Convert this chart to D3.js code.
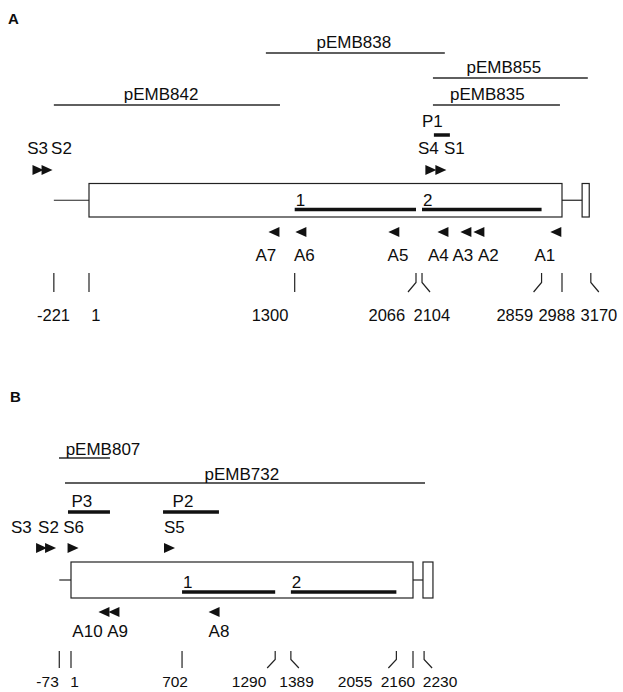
<!DOCTYPE html>
<html>
<head>
<meta charset="utf-8">
<script src="https://cdn.jsdelivr.net/npm/d3@7"></script>
<style>
body { margin: 0; background: white; }
text { font-family: "Liberation Sans", Arial, sans-serif; fill: #0d0d0d; }
</style>
</head>
<body>
<script>
// ---- panel A data (positions in bp) ----
const clonesA = ["pEMB838", "pEMB855", "pEMB835", "pEMB842"];
const cloneStartA = [1118, 2173, 2173, -221];
const cloneEndA = [2248, 3151, 2975, 1207];
const cloneRowA = [0, 1, 2, 2];
const cloneLabelAtA = [1674, 2621, 2517, 456];

const probesA = ["P1"];
const probeStartA = [2179];
const probeEndA = [2280];
const probeLabelAtA = [2169];

const fwdPrimersA = ["S3", "S2", "S4", "S1"];
const fwdAtA = [-321, -264, 2160, 2223];
const fwdLabelAtA = [-324, -173, 2144, 2308];

const revPrimersA = ["A7", "A6", "A5", "A4", "A3", "A2", "A1"];
const revAtA = [1169, 1339, 1926, 2236, 2381, 2463, 2949];
const revLabelAtA = [1118, 1361, 1952, 2207, 2362, 2523, 2880];

const exonsA = ["1", "2"];
const exonStartA = [1300, 2104];
const exonEndA = [2066, 2859];

const geneA = {flank: -221, start: 1, end: 2988, tailStart: 3115, tailEnd: 3160};

const ticksA = [-221, 1, 1300, 2066, 2104, 2859, 2988, 3170];
const tickLabelsA = ["-221", "1", "1300", "2066", "2104", "2859", "2988", "3170"];
const tickBendA = [0, 0, 0, -1, 1, -1, 0, 1];
const tickLabelAtA = [-223, 45, 1144, 1882, 2166, 2690, 2955, 3221];

// ---- panel B data (positions in bp) ----
const clonesB = ["pEMB807", "pEMB732"];
const cloneStartB = [-75, -37];
const cloneEndB = [247, 2236];
const cloneRowB = [0, 1];
const cloneLabelAtB = [203, 1080];

const probesB = ["P3", "P2"];
const probeStartB = [-18, 582];
const probeEndB = [247, 935];
const probeLabelAtB = [70, 708];

const fwdPrimersB = ["S3", "S2", "S6", "S5"];
const fwdAtB = [-185, -128, 14, 623];
const fwdLabelAtB = [-312, -141, 17, 654];

const revPrimersB = ["A10", "A9", "A8"];
const revAtB = [209, 272, 904];
const revLabelAtB = [105, 295, 935];

const exonsB = ["1", "2"];
const exonStartB = [702, 1389];
const exonEndB = [1290, 2055];

const geneB = {flank: -73, start: 1, end: 2160, tailStart: 2223, tailEnd: 2286};

const ticksB = [-73, 1, 702, 1290, 1389, 2055, 2160, 2230];
const tickLabelsB = ["-73", "1", "702", "1290", "1389", "2055", "2160", "2230"];
const tickBendB = [0, 0, 0, -1, 1, -1, 0, 1];
const tickLabelAtB = [-147, 23, 658, 1125, 1425, 1794, 2065, 2331];

const width = 623, height = 692;
const fontSize = 17;

const svg = d3.select("body").append("svg")
    .attr("width", width)
    .attr("height", height);

function triangle(cx, cy, dir) {
    const w = 5.5, h = 5;
    return "M" + (cx - dir*w) + "," + (cy - h) + "L" + (cx + dir*w) + "," + cy + "L" + (cx - dir*w) + "," + (cy + h) + "Z";
}

function drawPanel(p) {
    const g = svg.append("g");
    const x = p.x;

    g.append("text").attr("x", p.titleX).attr("y", p.titleY)
        .style("font-size", "15px").style("font-weight", "bold")
        .text(p.title);

    // clones
    p.clones.forEach((name, i) => {
        const y = p.rowY[p.cloneRow[i]];
        g.append("line")
            .attr("x1", x(p.cloneStart[i])).attr("x2", x(p.cloneEnd[i]))
            .attr("y1", y).attr("y2", y)
            .attr("stroke", "#2a2a2a").attr("stroke-width", 1.3);
        g.append("text")
            .attr("x", x(p.cloneLabelAt[i])).attr("y", y - p.cloneGap)
            .attr("text-anchor", "middle").style("font-size", fontSize + "px")
            .text(name);
    });

    // probes
    p.probes.forEach((name, i) => {
        g.append("line")
            .attr("x1", x(p.probeStart[i])).attr("x2", x(p.probeEnd[i]))
            .attr("y1", p.probeY).attr("y2", p.probeY)
            .attr("stroke", "#111").attr("stroke-width", 3.5);
        g.append("text")
            .attr("x", x(p.probeLabelAt[i])).attr("y", p.probeLabelY)
            .attr("text-anchor", "middle").style("font-size", fontSize + "px")
            .text(name);
    });

    // forward primers
    p.fwd.forEach((name, i) => {
        g.append("path").attr("d", triangle(x(p.fwdAt[i]), p.fwdY, 1)).attr("fill", "#111");
        g.append("text")
            .attr("x", x(p.fwdLabelAt[i])).attr("y", p.fwdLabelY)
            .attr("text-anchor", "middle").style("font-size", fontSize + "px")
            .text(name);
    });

    // gene
    const gn = p.gene;
    const boxMid = (p.boxTop + p.boxBottom) / 2;
    g.append("line").attr("x1", x(gn.flank)).attr("x2", x(gn.start))
        .attr("y1", boxMid).attr("y2", boxMid).attr("stroke", "#222").attr("stroke-width", 1.2);
    g.append("line").attr("x1", x(gn.end)).attr("x2", x(gn.tailStart))
        .attr("y1", boxMid).attr("y2", boxMid).attr("stroke", "#222").attr("stroke-width", 1.2);
    g.append("rect")
        .attr("x", x(gn.start)).attr("y", p.boxTop)
        .attr("width", x(gn.end) - x(gn.start)).attr("height", p.boxBottom - p.boxTop)
        .attr("fill", "none").attr("stroke", "#222").attr("stroke-width", 1.2);
    g.append("rect")
        .attr("x", x(gn.tailStart)).attr("y", p.boxTop)
        .attr("width", x(gn.tailEnd) - x(gn.tailStart)).attr("height", p.boxBottom - p.boxTop)
        .attr("fill", "none").attr("stroke", "#222").attr("stroke-width", 1.2);

    // exon bars
    p.exons.forEach((name, i) => {
        g.append("line")
            .attr("x1", x(p.exonStart[i])).attr("x2", x(p.exonEnd[i]))
            .attr("y1", p.exonY).attr("y2", p.exonY)
            .attr("stroke", "#111").attr("stroke-width", 3.5);
        g.append("text")
            .attr("x", x(p.exonStart[i]) + 1).attr("y", p.exonY - 4)
            .style("font-size", fontSize + "px")
            .text(name);
    });

    // reverse primers
    p.rev.forEach((name, i) => {
        g.append("path").attr("d", triangle(x(p.revAt[i]), p.revY, -1)).attr("fill", "#111");
        g.append("text")
            .attr("x", x(p.revLabelAt[i])).attr("y", p.revLabelY)
            .attr("text-anchor", "middle").style("font-size", fontSize + "px")
            .text(name);
    });

    // position ticks
    p.ticks.forEach((t, i) => {
        const tx = x(t);
        const bx = tx + p.tickBend[i] * 8;
        const mid = p.tickTop + (p.tickBottom - p.tickTop) * 0.5;
        g.append("path")
            .attr("d", p.tickBend[i] === 0
                ? "M" + tx + "," + p.tickTop + "V" + p.tickBottom
                : "M" + tx + "," + p.tickTop + "V" + mid + "L" + bx + "," + p.tickBottom)
            .attr("fill", "none").attr("stroke", "#222").attr("stroke-width", 1.2);
        g.append("text")
            .attr("x", x(p.tickLabelAt[i])).attr("y", p.tickLabelY)
            .attr("text-anchor", "middle").style("font-size", p.tickFont + "px")
            .text(p.tickLabels[i]);
    });
}

drawPanel({
    title: "A", titleX: 8, titleY: 24,
    x: d3.scaleLinear().domain([1, 2988]).range([89, 562]),
    clones: clonesA, cloneStart: cloneStartA, cloneEnd: cloneEndA, cloneRow: cloneRowA,
    cloneLabelAt: cloneLabelAtA, rowY: [53, 78, 105], cloneGap: 5,
    probes: probesA, probeStart: probeStartA, probeEnd: probeEndA, probeLabelAt: probeLabelAtA,
    probeY: 135, probeLabelY: 127,
    fwd: fwdPrimersA, fwdAt: fwdAtA, fwdLabelAt: fwdLabelAtA, fwdY: 170, fwdLabelY: 154,
    gene: geneA, boxTop: 183.5, boxBottom: 217,
    exons: exonsA, exonStart: exonStartA, exonEnd: exonEndA, exonY: 209.5,
    rev: revPrimersA, revAt: revAtA, revLabelAt: revLabelAtA, revY: 232, revLabelY: 261,
    ticks: ticksA, tickLabels: tickLabelsA, tickBend: tickBendA, tickLabelAt: tickLabelAtA,
    tickTop: 273, tickBottom: 292, tickLabelY: 321, tickFont: 16.5
});

drawPanel({
    title: "B", titleX: 10, titleY: 402,
    x: d3.scaleLinear().domain([1, 2160]).range([71, 413]),
    clones: clonesB, cloneStart: cloneStartB, cloneEnd: cloneEndB, cloneRow: cloneRowB,
    cloneLabelAt: cloneLabelAtB, rowY: [458, 483], cloneGap: 3.5,
    probes: probesB, probeStart: probeStartB, probeEnd: probeEndB, probeLabelAt: probeLabelAtB,
    probeY: 512, probeLabelY: 507,
    fwd: fwdPrimersB, fwdAt: fwdAtB, fwdLabelAt: fwdLabelAtB, fwdY: 548, fwdLabelY: 533,
    gene: geneB, boxTop: 562, boxBottom: 598,
    exons: exonsB, exonStart: exonStartB, exonEnd: exonEndB, exonY: 592,
    rev: revPrimersB, revAt: revAtB, revLabelAt: revLabelAtB, revY: 612, revLabelY: 637,
    ticks: ticksB, tickLabels: tickLabelsB, tickBend: tickBendB, tickLabelAt: tickLabelAtB,
    tickTop: 651, tickBottom: 668, tickLabelY: 687, tickFont: 15.5
});
</script>
</body>
</html>
